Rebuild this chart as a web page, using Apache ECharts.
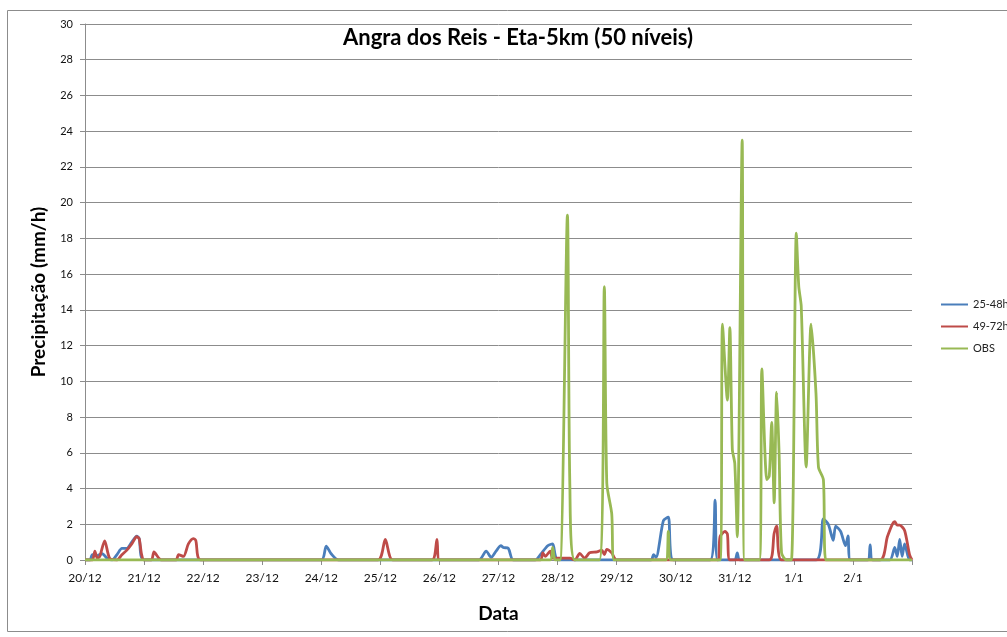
<!DOCTYPE html>
<html>
<head>
<meta charset="utf-8">
<script src="https://cdn.jsdelivr.net/npm/echarts@6/dist/echarts.min.js"></script>
<style>
  html, body { margin: 0; padding: 0; background: #fff; }
  #chart { width: 1007px; height: 637px; }
</style>
</head>
<body>
<div id="chart"></div>
<script>
// hours counted from 20/12 00h, values in mm/h
const dayLabels = ['20/12', '21/12', '22/12', '23/12', '24/12', '25/12', '26/12',
  '27/12', '28/12', '29/12', '30/12', '31/12', '1/1', '2/1', '']

const hours2548 = [0, 2, 3, 5, 7, 9, 11, 13, 15, 17, 19, 21, 22, 24, 96, 98, 100, 103,
  160, 163, 165, 167, 169, 170, 172, 174, 183, 185, 188, 190, 191, 192,
  230, 231, 232, 235, 237, 239, 254, 256, 257, 264, 265, 266,
  297, 300, 302, 304, 305, 307, 309, 310, 311, 318, 319, 320,
  327, 329, 330, 331, 332, 333, 335, 336]
const vals2548 = [0, 0, 0.3, 0.25, 0.35, 0.1, 0, 0.3, 0.65, 0.65, 1.0, 1.33, 1.2, 0, 0, 0.78, 0.35, 0,
  0, 0.5, 0.15, 0.5, 0.8, 0.7, 0.65, 0, 0, 0.3, 0.8, 0.9, 0.3, 0,
  0, 0.3, 0.15, 2.2, 2.4, 0, 0, 3.35, 0, 0, 0.4, 0,
  0, 2.3, 2.0, 1.1, 1.9, 1.6, 0.8, 1.35, 0, 0, 0.85, 0,
  0, 0.7, 0.2, 1.15, 0.2, 0.9, 0, 0]

const hours4972 = [0, 3, 4, 5, 6, 8, 10, 13, 15, 17, 19, 21, 22, 23, 24, 27, 28, 30, 31,
  37, 38, 40, 42, 44, 45, 47, 119, 122, 125, 141, 143, 144,
  185, 186, 187, 189, 190, 192, 197, 199, 201, 203, 205, 208, 210, 211, 212, 214, 216,
  257, 258, 260, 261, 262, 278, 280, 281, 283,
  323, 326, 328, 329, 330, 331, 333, 335, 336]
const vals4972 = [0, 0, 0.5, 0.1, 0.2, 1.07, 0.1, 0, 0.3, 0.55, 0.9, 1.3, 1.2, 0.3, 0, 0, 0.45, 0.1, 0,
  0, 0.3, 0.2, 0.9, 1.2, 1.1, 0, 0, 1.15, 0, 0, 1.15, 0,
  0, 0.4, 0.2, 0.5, 0.1, 0.1, 0.1, 0, 0.37, 0.1, 0.4, 0.45, 0.55, 0.3, 0.6, 0.4, 0,
  0, 1.3, 1.6, 1.45, 0, 0, 1.5, 1.9, 0,
  0, 1.3, 2.0, 2.15, 1.95, 1.95, 1.65, 0.3, 0]

const hoursObs = [0, 189, 190, 191, 193, 196, 197, 199, 209, 211, 212, 214, 215,
  236, 237, 238, 258, 259, 261, 262, 263, 264, 265, 267, 268,
  274, 275, 277, 278, 279, 280, 281, 282, 283, 285,
  287, 289, 290, 291, 293, 295, 297, 298, 300, 301, 336]
const valsObs = [0, 0, 0.7, 0, 0, 19.3, 4.1, 0, 0, 15.3, 4.3, 2.6, 0,
  0, 1.6, 0, 0, 13.2, 8.95, 13.0, 6.2, 5.4, 1.3, 23.5, 0,
  0, 10.7, 4.5, 4.7, 7.7, 3.2, 9.4, 6.0, 0.4, 0,
  0, 18.3, 15.3, 14.2, 5.2, 13.2, 9.3, 5.2, 4.5, 0, 0]

const zip = (xs, ys) => xs.map((x, i) => [x, ys[i]])

const chart = echarts.init(document.getElementById('chart'))
const font = 'Lato, "Open Sans", sans-serif'

const lineSeries = (name, color, hours, vals) => ({
  name,
  type: 'line',
  data: zip(hours, vals),
  showSymbol: false,
  smooth: 0.25,
  lineStyle: { color, width: 2.8 },
  itemStyle: { color },
})

chart.setOption({
  animation: false,
  textStyle: { fontFamily: font },
  title: {
    text: 'Angra dos Reis - Eta-5km (50 níveis)',
    left: 338,
    top: 22,
    textStyle: { fontSize: 22, fontWeight: 'bold', color: '#000', fontFamily: font },
  },
  graphic: [{
    type: 'rect',
    shape: { x: 7.5, y: 10.5, width: 1010, height: 621 },
    style: { fill: 'none', stroke: '#8c8c8c', lineWidth: 1 },
    silent: true,
  }],
  legend: {
    orient: 'vertical',
    left: 936,
    top: 294,
    icon: 'rect',
    itemWidth: 27,
    itemHeight: 2,
    itemGap: 11,
    textStyle: { fontSize: 11, color: '#222', fontFamily: font },
    data: ['25-48h', '49-72h', 'OBS'],
  },
  grid: { left: 85, right: 95, top: 24, bottom: 77 },
  xAxis: {
    type: 'value',
    min: 0,
    max: 336,
    interval: 24,
    name: 'Data',
    nameLocation: 'middle',
    nameGap: 44,
    nameTextStyle: { fontSize: 19, fontWeight: 'bold', color: '#000' },
    axisLine: { lineStyle: { color: '#8c8c8c' } },
    axisTick: { show: true, length: 5, lineStyle: { color: '#8c8c8c' } },
    axisLabel: {
      color: '#111',
      fontSize: 12,
      margin: 12,
      formatter: (v) => dayLabels[Math.round(v / 24)],
    },
    splitLine: { show: false },
  },
  yAxis: {
    type: 'value',
    min: 0,
    max: 30,
    interval: 2,
    name: 'Precipitação (mm/h)',
    nameLocation: 'middle',
    nameGap: 37,
    nameTextStyle: { fontSize: 19, fontWeight: 'bold', color: '#000' },
    axisLine: { show: true, lineStyle: { color: '#8c8c8c' } },
    axisTick: { show: true, length: 5, lineStyle: { color: '#8c8c8c' } },
    axisLabel: { color: '#111', fontSize: 11, margin: 12 },
    splitLine: { lineStyle: { color: '#8c8c8c', width: 1 } },
  },
  series: [
    lineSeries('25-48h', '#4a7ebb', hours2548, vals2548),
    lineSeries('49-72h', '#be4b48', hours4972, vals4972),
    lineSeries('OBS', '#98b954', hoursObs, valsObs),
  ],
})
</script>
</body>
</html>
